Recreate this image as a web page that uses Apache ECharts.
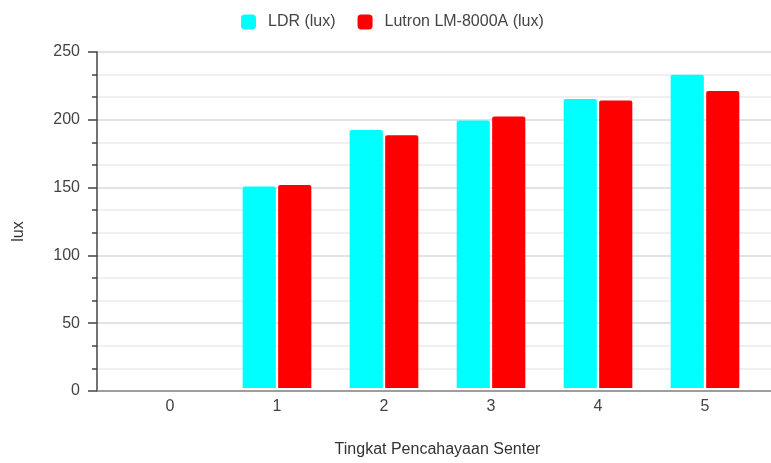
<!DOCTYPE html>
<html>
<head>
<meta charset="utf-8">
<script src="https://cdn.jsdelivr.net/npm/echarts@6/dist/echarts.min.js"></script>
<style>
  html, body { margin: 0; padding: 0; background: #fff; }
  #chart { width: 771px; height: 463px; }
</style>
</head>
<body>
<div id="chart"></div>
<script>
// Light level steps of the flashlight
const categories = ['0', '1', '2', '3', '4', '5'];
// Readings from the LDR sensor (lux)
const ldrValues = [0, 150, 192, 199, 215, 233];
// Readings from the Lutron LM-8000A meter (lux)
const lutronValues = [0, 151, 188, 202, 214, 221];
const seriesNames = ['LDR (lux)', 'Lutron LM-8000A (lux)'];
const yTicks = [0, 50, 100, 150, 200, 250];

const chart = echarts.init(document.getElementById('chart'));
const font = 'Liberation Sans, Arial, sans-serif';
const yMin = yTicks[0];
const yMax = yTicks[yTicks.length - 1];
const yStep = yTicks[1] - yTicks[0];

chart.setOption({
  animation: false,
  textStyle: { fontFamily: font },
  legend: {
    top: 9,
    left: 236,
    itemWidth: 15,
    itemHeight: 15,
    itemGap: 22,
    icon: 'roundRect',
    textStyle: { fontSize: 16, color: '#444', fontFamily: font, padding: [0, 0, 0, 7] },
    data: seriesNames
  },
  // grid 0 carries the value axis, gridlines and the baseline;
  // grid 1 holds the bars, inset from the value axis
  grid: [
    { left: 97, right: 0, top: 52, bottom: 72 },
    { left: 116.5, right: 12.5, top: 52, bottom: 72 }
  ],
  xAxis: [
    {
      gridIndex: 0,
      type: 'value',
      min: 0,
      max: 1,
      axisLine: { show: true, onZero: false, lineStyle: { color: '#888', width: 1.5 } },
      axisTick: { show: false },
      axisLabel: { show: false },
      splitLine: { show: false }
    },
    {
      gridIndex: 1,
      type: 'category',
      data: categories,
      name: 'Tingkat Pencahayaan Senter',
      nameLocation: 'middle',
      nameGap: 54,
      nameTextStyle: { fontSize: 16, color: '#333' },
      axisLine: { show: false },
      axisTick: { show: false },
      axisLabel: { fontSize: 16, color: '#444', margin: 11 }
    }
  ],
  yAxis: [
    {
      gridIndex: 0,
      type: 'value',
      min: yMin,
      max: yMax,
      interval: yStep,
      axisLine: { show: true, lineStyle: { color: '#444', width: 1.5 } },
      axisTick: { show: true, length: 9, lineStyle: { color: '#444', width: 1.5 } },
      minorTick: { show: true, splitNumber: 3, length: 5, lineStyle: { color: '#444', width: 1.5 } },
      axisLabel: { fontSize: 16, color: '#444', margin: 17 },
      splitLine: { lineStyle: { color: '#dadada', width: 1.5 } },
      minorSplitLine: { show: true, lineStyle: { color: '#ececec', width: 1.5 } }
    },
    {
      gridIndex: 1,
      type: 'value',
      min: yMin,
      max: yMax,
      interval: yStep,
      show: false,
      splitLine: { show: false }
    }
  ],
  graphic: [
    {
      type: 'text',
      x: 19,
      y: 231.5,
      rotation: Math.PI / 2,
      style: {
        text: 'lux',
        fontSize: 16,
        fontFamily: font,
        fill: '#333',
        align: 'center',
        verticalAlign: 'middle'
      }
    }
  ],
  series: [
    {
      name: seriesNames[0],
      type: 'bar',
      xAxisIndex: 1,
      yAxisIndex: 1,
      data: ldrValues,
      barWidth: '31%',
      barGap: '7%',
      itemStyle: { color: '#00ffff', borderRadius: [2, 2, 0, 0] }
    },
    {
      name: seriesNames[1],
      type: 'bar',
      xAxisIndex: 1,
      yAxisIndex: 1,
      data: lutronValues,
      barWidth: '31%',
      barGap: '7%',
      itemStyle: { color: '#ff0000', borderRadius: [2, 2, 0, 0] }
    }
  ]
});
</script>
</body>
</html>
